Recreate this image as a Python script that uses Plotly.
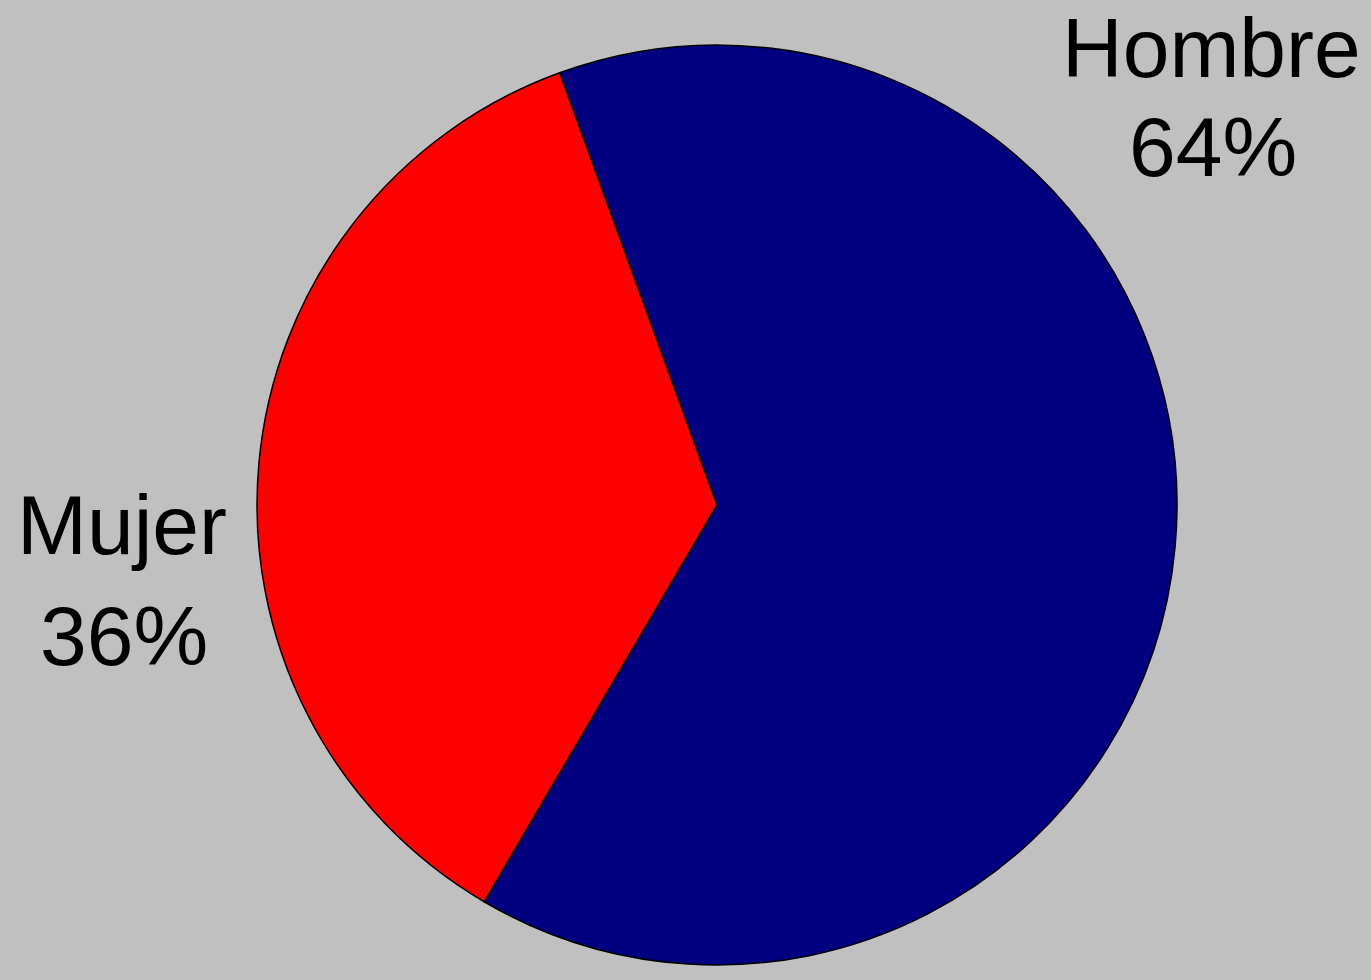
import plotly.graph_objects as go

labels = ["Hombre", "Mujer"]
values = [64, 36]
colors = ["#000080", "#FF0000"]

W, H = 1371, 980
FONT = dict(size=84, color="black", family="Liberation Sans, Arial, sans-serif")

fig = go.Figure(go.Pie(
    labels=labels,
    values=values,
    sort=False,
    direction="clockwise",
    rotation=-20,
    marker=dict(colors=colors, line=dict(color="black", width=1.5)),
    textinfo="none",
    hoverinfo="label+percent",
    domain=dict(x=[257 / W, 1177 / W], y=[15 / H, 935 / H]),
    showlegend=False,
))

total = sum(values)
# Hombre label: anchored at top edge
fig.add_annotation(x=1211 / W, y=1, xref="paper", yref="paper", text=labels[0],
                   showarrow=False, xanchor="center", yanchor="top", borderpad=0, font=FONT)
fig.add_annotation(x=1213 / W, y=1 - 147 / H, xref="paper", yref="paper",
                   text=f"{round(values[0] / total * 100)}%", showarrow=False,
                   xanchor="center", yanchor="middle", font=FONT)
fig.add_annotation(x=122 / W, y=1 - 525 / H, xref="paper", yref="paper", text=labels[1],
                   showarrow=False, xanchor="center", yanchor="middle", font=FONT)
fig.add_annotation(x=124 / W, y=1 - 636 / H, xref="paper", yref="paper",
                   text=f"{round(values[1] / total * 100)}%", showarrow=False,
                   xanchor="center", yanchor="middle", font=FONT)

fig.update_layout(
    width=W, height=H,
    margin=dict(l=0, r=0, t=0, b=0),
    paper_bgcolor="#C0C0C0",
    plot_bgcolor="#C0C0C0",
)

fig.write_html(
    "out.html",
    config={"displayModeBar": False},
    post_script="document.body.style.margin='0';document.body.style.padding='0';"
                "document.body.style.overflow='hidden';document.body.style.background='#C0C0C0';",
)
